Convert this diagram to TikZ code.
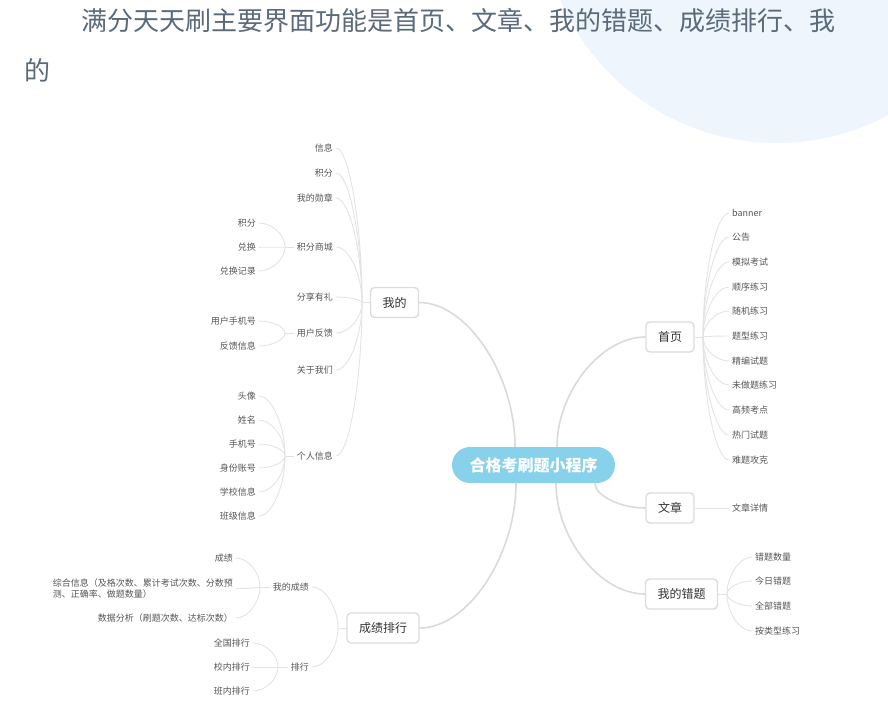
\documentclass[tikz,border=0pt]{standalone}
\usepackage{fontspec}
\setmainfont{Noto Sans CJK SC}
\usetikzlibrary{calc,backgrounds}
\definecolor{bgcirc}{HTML}{EEF5FD}
\definecolor{hdr}{HTML}{5A6A7B}
\definecolor{rootfill}{HTML}{87D1EB}
\definecolor{boxline}{HTML}{DCDCDC}
\definecolor{mainline}{HTML}{DADADA}
\definecolor{subline}{HTML}{E3E3E3}
\definecolor{lvtext}{HTML}{333333}
\definecolor{leaftext}{HTML}{555555}
\begin{document}
\begin{tikzpicture}[x=1pt,y=-1pt,
  rootbox/.style={rectangle,rounded corners=18pt,fill=rootfill,minimum width=163pt,minimum height=36pt,text=white,font=\fontsize{16}{18}\selectfont\bfseries,inner sep=0pt},
  topic/.style={rectangle,rounded corners=4pt,draw=boxline,line width=1.4pt,fill=white,minimum height=30pt,inner xsep=12pt,inner ysep=0pt,text=lvtext,font=\fontsize{12}{14}\selectfont},
  leaf/.style={inner xsep=3pt,inner ysep=1pt,text=leaftext,font=\fontsize{9}{11.6}\selectfont},
  lleaf/.style={leaf,anchor=east},
  rleaf/.style={leaf,anchor=west},
  curvy/.style={to path={let \p1=(\tikztostart),\p2=(\tikztotarget) in .. controls (\x1,{0.5*(\y1+\y2)}) and ({0.5*(\x1+\x2)},\y2) .. (\tikztotarget)}},
  mainlink/.style={draw=mainline,line width=1.6pt,curvy},
  sublink/.style={draw=subline,line width=0.9pt,curvy},
  subline/.style={draw=subline,line width=0.9pt},
  hdrtext/.style={anchor=base west,inner sep=0pt,text=hdr,font=\fontsize{26}{30}\selectfont}
]
\useasboundingbox (0,0) rectangle (888,713);
\clip (0,0) rectangle (888,713);

% header
\node[hdrtext] (h1) at (81,30) {满分天天刷主要界面功能是首页、文章、我的错题、成绩排行、我};
\node[hdrtext] (h2) at (24,80) {的};

% root and topics
\node[rootbox] (root) at (533.5,465) {合格考刷题小程序};
\node[topic] (wd) at (394.5,302.5) {我的};
\node[topic] (sy) at (670,337) {首页};
\node[topic] (wz) at (670,508) {文章};
\node[topic] (ct) at (681.5,594) {我的错题};
\node[topic] (cj) at (383,628) {成绩排行};

% 我的 children
\coordinate (j1) at (362,302.5);
\node[lleaf] (xx) at (336,148) {信息};
\node[lleaf] (jf) at (336,173) {积分};
\node[lleaf] (xz) at (336,198) {我的勋章};
\node[lleaf] (sc) at (336,247) {积分商城};
\node[lleaf] (fx) at (336,297) {分享有礼};
\node[lleaf] (fk) at (336,333) {用户反馈};
\node[lleaf] (gy) at (336,370) {关于我们};
\node[lleaf] (gr) at (336,456) {个人信息};

\coordinate (j1a) at (285,247);
\node[lleaf] (a1) at (259,223) {积分};
\node[lleaf] (a2) at (259,247) {兑换};
\node[lleaf] (a3) at (259,271) {兑换记录};

\coordinate (j1b) at (285,333);
\node[lleaf] (b1) at (259,321) {用户手机号};
\node[lleaf] (b2) at (259,346) {反馈信息};

\coordinate (j1c) at (285,456);
\node[lleaf] (c1) at (259,396) {头像};
\node[lleaf] (c2) at (259,420) {姓名};
\node[lleaf] (c3) at (259,444) {手机号};
\node[lleaf] (c4) at (259,468) {身份账号};
\node[lleaf] (c5) at (259,492) {学校信息};
\node[lleaf] (c6) at (259,516) {班级信息};

% 首页 children
\coordinate (j2) at (703,337);
\node[rleaf] (s1) at (729,213) {banner};
\node[rleaf] (s2) at (729,237) {公告};
\node[rleaf] (s3) at (729,262) {模拟考试};
\node[rleaf] (s4) at (729,287) {顺序练习};
\node[rleaf] (s5) at (729,311) {随机练习};
\node[rleaf] (s6) at (729,336) {题型练习};
\node[rleaf] (s7) at (729,361) {精编试题};
\node[rleaf] (s8) at (729,385) {未做题练习};
\node[rleaf] (s9) at (729,410) {高频考点};
\node[rleaf] (s10) at (729,435) {热门试题};
\node[rleaf] (s11) at (729,460) {难题攻克};

% 文章 child
\node[rleaf] (w1) at (729,508) {文章详情};

% 我的错题 children
\coordinate (j4) at (727,594);
\node[rleaf] (t1) at (752,557) {错题数量};
\node[rleaf] (t2) at (752,581) {今日错题};
\node[rleaf] (t3) at (752,606) {全部错题};
\node[rleaf] (t4) at (752,631) {按类型练习};

% 成绩排行 children
\coordinate (j5) at (338,628);
\node[lleaf] (m1) at (312,587) {我的成绩};
\node[lleaf] (m2) at (312,667) {排行};

\coordinate (j5a) at (260,587);
\node[lleaf] (d1) at (236,558) {成绩};
\node[lleaf,align=left] (d2) at (236,588.5) {综合信息（及格次数、累计考试次数、分数预\\测、正确率、做题数量）};
\node[lleaf] (d3) at (236,618) {数据分析（刷题次数、达标次数）};

\coordinate (j5b) at (278,667);
\node[lleaf] (r1) at (253,643) {全国排行};
\node[lleaf] (r2) at (253,667) {校内排行};
\node[lleaf] (r3) at (253,691) {班内排行};

\begin{scope}[on background layer]
\fill[bgcirc] (777,-93) circle[radius=236pt];
% root links
\draw[mainlink] ([xshift=-18.5pt]root.north) to (wd.east);
\draw[mainlink] ([xshift=23.5pt]root.north) to (sy.west);
\draw[mainlink] ([xshift=61.5pt]root.south) to (wz.west);
\draw[mainlink] ([xshift=22.5pt]root.south) to (ct.west);
\draw[mainlink] ([xshift=-17.5pt]root.south) to (cj.east);
% 我的
\draw[subline] (wd.west) -- (j1);
\foreach \k in {xx,jf,xz,sc,fx,fk,gy,gr} \draw[sublink] (j1) to (\k.east);
\draw[subline] (sc.west) -- (j1a);
\foreach \k in {a1,a2,a3} \draw[sublink] (j1a) to (\k.east);
\draw[subline] (fk.west) -- (j1b);
\foreach \k in {b1,b2} \draw[sublink] (j1b) to (\k.east);
\draw[subline] (gr.west) -- (j1c);
\foreach \k in {c1,c2,c3,c4,c5,c6} \draw[sublink] (j1c) to (\k.east);
% 首页
\draw[subline] (sy.east) -- (j2);
\foreach \k in {s1,s2,s3,s4,s5,s6,s7,s8,s9,s10,s11} \draw[sublink] (j2) to (\k.west);
% 文章
\draw[subline] (wz.east) -- (w1.west);
% 我的错题
\draw[subline] (ct.east) -- (j4);
\foreach \k in {t1,t2,t3,t4} \draw[sublink] (j4) to (\k.west);
% 成绩排行
\draw[subline] (cj.west) -- (j5);
\foreach \k in {m1,m2} \draw[sublink] (j5) to (\k.east);
\draw[subline] (m1.west) -- (j5a);
\foreach \k in {d1,d2,d3} \draw[sublink] (j5a) to (\k.east);
\draw[subline] (m2.west) -- (j5b);
\foreach \k in {r1,r2,r3} \draw[sublink] (j5b) to (\k.east);
\end{scope}
\end{tikzpicture}
\end{document}
